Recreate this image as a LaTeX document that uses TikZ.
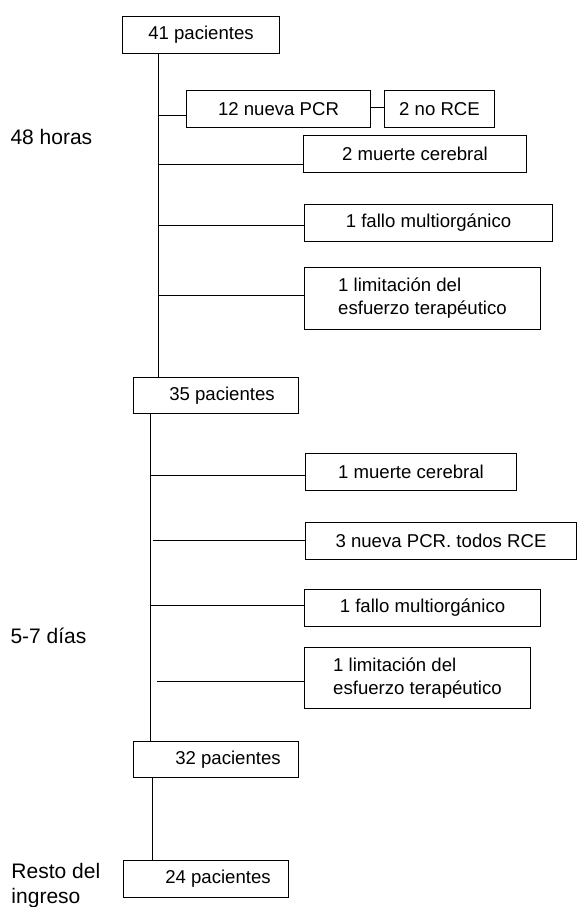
\documentclass[tikz,border=0pt]{standalone}
\usepackage{fontspec}
\setmainfont{Liberation Sans}
\begin{document}
\begin{tikzpicture}[x=1pt,y=-1pt,line width=1pt,
  caja/.style={draw,anchor=north west,inner sep=0pt,font=\fontsize{18.6}{23}\selectfont},
  rotulo/.style={anchor=west,align=left,inner sep=0pt,font=\fontsize{21}{25}\selectfont}]
\useasboundingbox (0,0) rectangle (577,907);
\node[caja,minimum width=157,minimum height=37] (p41) at (122,16) {41 pacientes};
\node[caja,minimum width=184,minimum height=37] (pcr12) at (186,90) {12 nueva PCR};
\node[caja,minimum width=110,minimum height=37] (norce) at (384,90) {2 no RCE};
\node[caja,minimum width=223,minimum height=37] (muerte2) at (303,135) {2 muerte cerebral};
\node[caja,minimum width=248,minimum height=37] (fallo1) at (304,204) {1 fallo multiorgánico};
\node[caja,minimum width=236,minimum height=62,align=left] (limit1) at (304,267) {1 limitación del\\esfuerzo terapéutico};
\node[caja,minimum width=165,minimum height=36] (p35) at (133,377) {\hspace*{12pt}35 pacientes};
\node[caja,minimum width=211,minimum height=37] (muerte1) at (305,453) {1 muerte cerebral};
\node[caja,minimum width=271,minimum height=37] (pcr3) at (305,522) {3 nueva PCR. todos RCE};
\node[caja,minimum width=236,minimum height=37] (fallo2) at (304,589) {1 fallo multiorgánico};
\node[caja,minimum width=226,minimum height=61,align=left] (limit2) at (304,647) {1 limitación del\\esfuerzo terapéutico};
\node[caja,minimum width=165,minimum height=36] (p32) at (133,741) {\hspace*{24pt}32 pacientes};
\node[caja,minimum width=165,minimum height=37] (p24) at (123,860) {\hspace*{24pt}24 pacientes};
\node[rotulo] (h48) at (10,137) {48 horas};
\node[rotulo] (d57) at (10,636) {5-7 días};
\node[rotulo] (resto) at (11,885.5) {Resto del\\ingreso};
\coordinate (t1) at (158,0);
\coordinate (t2) at (150,0);
\coordinate (t3) at (152,0);
\draw (p41.south -| t1) -- (p35.north -| t1);
\draw (p35.south -| t2) -- (p32.north -| t2);
\draw (p32.south -| t3) -- (p24.north -| t3);
\foreach \yy/\dest in {115/pcr12,164/muerte2,225/fallo1,295/limit1}
  \draw (158,\yy) -- (158,\yy -| \dest.west);
\foreach \xx/\yy/\dest in {150/475/muerte1,153/540/pcr3,150/605/fallo2,157/681/limit2}
  \draw (\xx,\yy) -- (\xx,\yy -| \dest.west);
\draw (pcr12.east |- 0,107) -- (norce.west |- 0,107);
\end{tikzpicture}
\end{document}
